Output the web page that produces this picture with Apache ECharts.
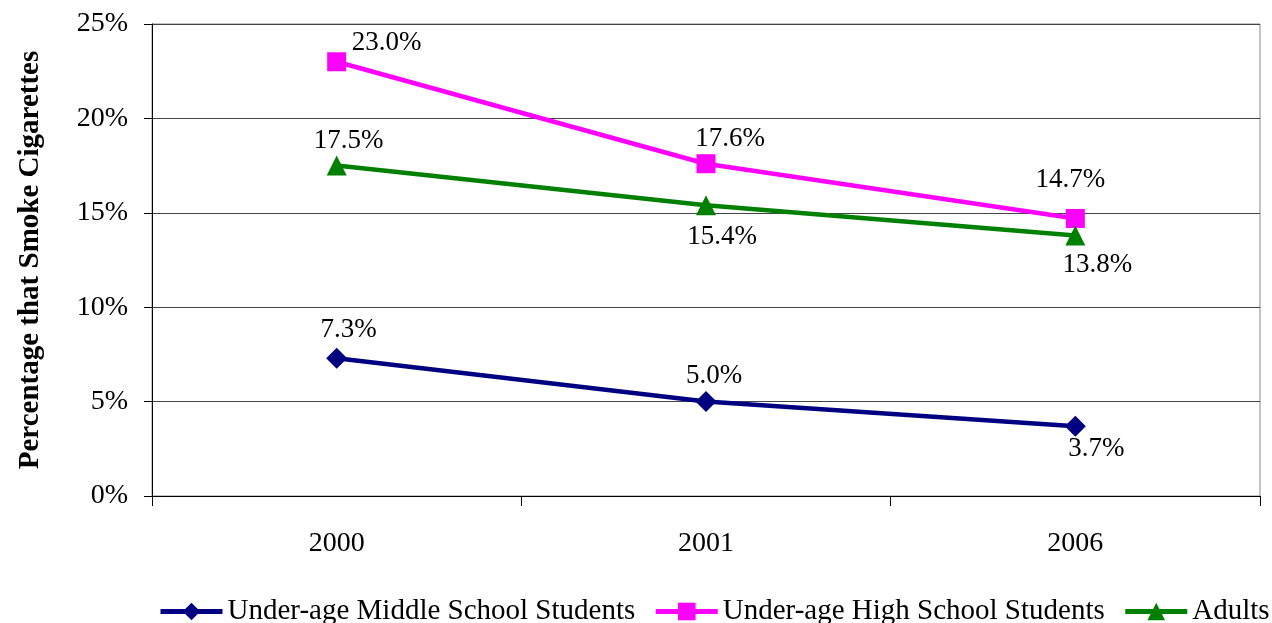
<!DOCTYPE html>
<html>
<head>
<meta charset="utf-8">
<script src="https://cdn.jsdelivr.net/npm/echarts@6/dist/echarts.min.js"></script>
<style>
  html, body { margin: 0; padding: 0; background: #fff; }
  #chart { width: 1272px; height: 623px; }
</style>
</head>
<body>
<div id="chart"></div>
<script>
// Cigarette smoking rates by group, in percent
const years = ['2000', '2001', '2006'];
const middleSchool = [7.3, 5.0, 3.7];
const highSchool = [23.0, 17.6, 14.7];
const adults = [17.5, 15.4, 13.8];
const yTicks = { min: 0, max: 25, step: 5 };

// Label placement for each point, relative to its marker
const msOffsets = [[12, -28], [8, -26], [21, 23]];
const hsOffsets = [[50, -19], [24, -25], [-5, -39]];
const adOffsets = [[12, -25], [16, 32], [22, 29]];

const font = "'Liberation Serif', 'Times New Roman', serif";

function pts(values, offsets) {
  return values.map((v, i) => ({
    value: v,
    label: { offset: offsets[i] }
  }));
}

function makeSeries(name, values, offsets, color, symbol, size) {
  return {
    name: name,
    type: 'line',
    data: pts(values, offsets),
    symbol: symbol,
    symbolSize: size,
    lineStyle: { color: color, width: 4.5 },
    itemStyle: { color: color },
    label: {
      show: true,
      position: 'inside',
      formatter: p => p.value.toFixed(1) + '%',
      fontFamily: font,
      fontSize: 27,
      color: '#000'
    },
    emphasis: { disabled: true },
    animation: false
  };
}

const chart = echarts.init(document.getElementById('chart'));
chart.setOption({
  backgroundColor: '#fff',
  grid: {
    left: 152, right: 12, top: 24, bottom: 127,
    show: true, borderColor: '#888', borderWidth: 1
  },
  legend: {
    top: 597,
    left: 158,
    width: 1114,
    padding: 0,
    itemWidth: 62,
    itemHeight: 22,
    itemGap: 18,
    lineStyle: { width: 5 },
    textStyle: { fontFamily: font, fontSize: 29, color: '#000' },
    data: ['Under-age Middle School Students', 'Under-age High School Students', 'Adults']
  },
  xAxis: {
    type: 'category',
    data: years,
    boundaryGap: true,
    axisLine: { lineStyle: { color: '#000', width: 1 } },
    axisTick: { show: true, length: 10, interval: 0, lineStyle: { color: '#000' } },
    axisLabel: { margin: 34, fontFamily: font, fontSize: 28, color: '#000' }
  },
  yAxis: {
    type: 'value',
    min: yTicks.min,
    max: yTicks.max,
    interval: yTicks.step,
    name: 'Percentage that Smoke Cigarettes',
    nameLocation: 'middle',
    nameGap: 107,
    nameTextStyle: { fontFamily: font, fontSize: 29, fontWeight: 'bold', color: '#000' },
    axisLine: { show: true, lineStyle: { color: '#000', width: 1 } },
    axisTick: { show: true, length: 8, lineStyle: { color: '#000' } },
    axisLabel: { formatter: '{value}%', margin: 24, fontFamily: font, fontSize: 28, color: '#000' },
    splitLine: { lineStyle: { color: '#444', width: 1 } }
  },
  series: [
    makeSeries('Under-age Middle School Students', middleSchool, msOffsets, '#000080', 'diamond', 21),
    makeSeries('Under-age High School Students', highSchool, hsOffsets, '#FF00FF', 'rect', 19),
    makeSeries('Adults', adults, adOffsets, '#008000', 'triangle', 20)
  ]
});
</script>
</body>
</html>
